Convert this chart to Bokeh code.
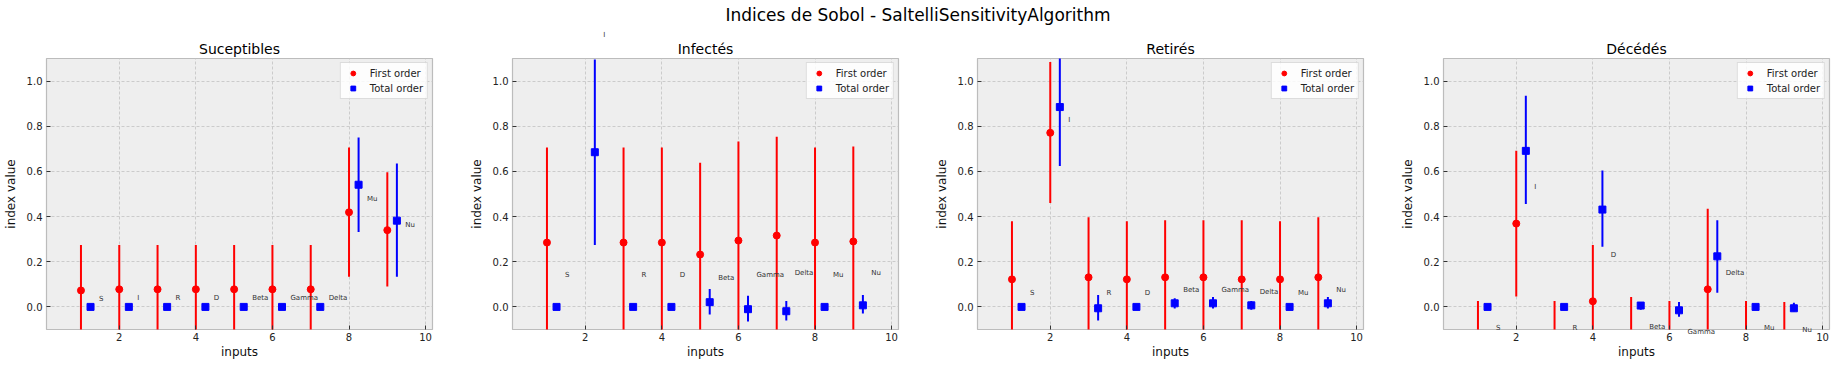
from bokeh.plotting import figure
from bokeh.models import (ColumnDataSource, FixedTicker, NumeralTickFormatter,
                          Range1d, Legend, LegendItem, Div)
from bokeh.core.properties import value
from bokeh.layouts import row, column
from bokeh.embed import file_html
from bokeh.resources import INLINE

suptitle = "Indices de Sobol - SaltelliSensitivityAlgorithm"
names = ["S", "I", "R", "D", "Beta", "Gamma", "Delta", "Mu", "Nu"]
titles = ["Suceptibles", "Infectés", "Retirés", "Décédés"]
x_ticks = [2, 4, 6, 8, 10]
y_ticks = [0.0, 0.2, 0.4, 0.6, 0.8, 1.0]

# --- Suceptibles
s_first = [0.073, 0.078, 0.078, 0.078, 0.078, 0.078, 0.078, 0.419, 0.340]
s_first_lo = [-0.128, -0.118, -0.118, -0.118, -0.118, -0.118, -0.118, 0.134, 0.090]
s_first_hi = [0.274, 0.274, 0.274, 0.274, 0.274, 0.274, 0.274, 0.706, 0.596]
s_total = [0.0, 0.0, 0.0, 0.0, 0.0, 0.0, 0.0, 0.541, 0.382]
s_total_lo = [0.0, 0.0, 0.0, 0.0, 0.0, 0.0, 0.0, 0.332, 0.134]
s_total_hi = [0.0, 0.0, 0.0, 0.0, 0.0, 0.0, 0.0, 0.750, 0.635]

# --- Infectés
i_first = [0.285, 1.720, 0.285, 0.285, 0.232, 0.294, 0.316, 0.285, 0.290]
i_first_lo = [-0.136, 1.300, -0.136, -0.136, -0.174, -0.144, -0.122, -0.136, -0.130]
i_first_hi = [0.706, 2.140, 0.706, 0.706, 0.638, 0.732, 0.754, 0.706, 0.710]
i_total = [0.0, 0.685, 0.0, 0.0, 0.021, -0.010, -0.019, 0.0, 0.007]
i_total_lo = [0.0, 0.274, 0.0, 0.0, -0.034, -0.065, -0.060, 0.0, -0.029]
i_total_hi = [0.0, 1.096, 0.0, 0.0, 0.079, 0.049, 0.026, 0.0, 0.053]

# --- Retirés
r_first = [0.122, 0.771, 0.131, 0.122, 0.131, 0.131, 0.122, 0.122, 0.131]
r_first_lo = [-0.135, 0.460, -0.135, -0.135, -0.122, -0.122, -0.140, -0.135, -0.135]
r_first_hi = [0.379, 1.085, 0.397, 0.379, 0.384, 0.384, 0.384, 0.379, 0.397]
r_total = [0.0, 0.885, -0.006, 0.0, 0.016, 0.016, 0.007, 0.0, 0.016]
r_total_lo = [0.0, 0.624, -0.060, 0.0, -0.007, -0.007, -0.012, 0.0, -0.007]
r_total_hi = [0.0, 1.146, 0.053, 0.0, 0.038, 0.044, 0.026, 0.0, 0.044]

# --- Décédés
d_first = [-0.190, 0.369, -0.190, 0.025, -0.188, -0.203, 0.078, -0.190, -0.194]
d_first_lo = [-0.406, 0.046, -0.406, -0.224, -0.420, -0.432, -0.279, -0.406, -0.410]
d_first_hi = [0.026, 0.691, 0.026, 0.274, 0.044, 0.026, 0.435, 0.026, 0.022]
d_total = [0.0, 0.691, 0.0, 0.431, 0.006, -0.015, 0.224, 0.0, -0.006]
d_total_lo = [0.0, 0.456, 0.0, 0.266, -0.013, -0.043, 0.063, 0.0, -0.020]
d_total_hi = [0.0, 0.935, 0.0, 0.604, 0.021, 0.022, 0.384, 0.0, 0.018]

series = [
    (s_first, s_first_lo, s_first_hi, s_total, s_total_lo, s_total_hi),
    (i_first, i_first_lo, i_first_hi, i_total, i_total_lo, i_total_hi),
    (r_first, r_first_lo, r_first_hi, r_total, r_total_lo, r_total_hi),
    (d_first, d_first_lo, d_first_hi, d_total, d_total_lo, d_total_hi),
]

FONT = "DejaVu Sans"
widths = [466, 465, 466, 439]
LEFT = 44
FRAME_W = 388

figs = []
for k in range(4):
    fi, fl, fh, to, tl, th = series[k]
    xs = [i + 1 for i in range(len(names))]
    xt = [x + 0.25 for x in xs]
    src_f = ColumnDataSource(dict(x=xs, y=fi, lo=fl, hi=fh))
    src_t = ColumnDataSource(dict(x=xt, y=to, lo=tl, hi=th))
    src_l = ColumnDataSource(dict(x=[x + 0.47 for x in xs],
                                  y=[(a + b) / 2 for a, b in zip(fi, to)],
                                  t=names))
    W = widths[k]
    p = figure(width=W, height=339, output_backend="svg", toolbar_location=None,
               x_range=Range1d(0.1, 10.18), y_range=Range1d(-0.1, 1.1),
               min_border_left=LEFT, min_border_right=W - LEFT - FRAME_W,
               min_border_top=30, min_border_bottom=38,
               background_fill_color="#eeeeee", border_fill_color="white")
    p.title.text = titles[k]
    p.title.align = "center"
    p.title.text_font = FONT
    p.title.text_font_size = "14px"
    p.title.text_font_style = "normal"
    p.title.text_color = "black"
    p.title.standoff = 4
    p.outline_line_color = "#bcbcbc"
    p.outline_line_width = 1.2

    for ax in (p.xaxis[0], p.yaxis[0]):
        ax.axis_line_color = None
        ax.major_tick_in = 4
        ax.major_tick_out = 0
        ax.minor_tick_in = 0
        ax.minor_tick_out = 0
        ax.major_tick_line_color = "#333333"
        ax.major_label_text_font = FONT
        ax.major_label_text_font_size = "10px"
        ax.major_label_text_color = "#222222"
        ax.axis_label_text_font = FONT
        ax.axis_label_text_font_size = "12px"
        ax.axis_label_text_font_style = "normal"
        ax.axis_label_text_color = "#111111"
    p.xaxis.ticker = FixedTicker(ticks=x_ticks)
    p.yaxis.ticker = FixedTicker(ticks=y_ticks)
    p.yaxis.formatter = NumeralTickFormatter(format="0.0")
    p.xaxis.axis_label = "inputs"
    p.yaxis.axis_label = "index value"
    p.xaxis.major_label_standoff = 3
    p.yaxis.major_label_standoff = 4
    p.xaxis.axis_label_standoff = 1
    p.yaxis.axis_label_standoff = 6

    for g in (p.xgrid[0], p.ygrid[0]):
        g.grid_line_color = "#c6c6c6"
        g.grid_line_width = 0.9
        g.grid_line_dash = "3 2"
    p.xgrid.ticker = FixedTicker(ticks=x_ticks)
    p.ygrid.ticker = FixedTicker(ticks=y_ticks)

    p.segment(x0="x", y0="lo", x1="x", y1="hi", source=src_f, line_color="red", line_width=2)
    rf = p.scatter(x="x", y="y", source=src_f, marker="circle", size=7,
                   fill_color="red", line_color="red")
    p.segment(x0="x", y0="lo", x1="x", y1="hi", source=src_t, line_color="blue", line_width=2)
    rt = p.scatter(x="x", y="y", source=src_t, marker="square", size=7,
                   fill_color="blue", line_color="blue")

    p.text(x="x", y="y", text="t", source=src_l, level="overlay",
           text_font=value(FONT), text_font_size="7px", text_color="#333333",
           text_align="left", text_baseline="middle")

    legend = Legend(items=[LegendItem(label="First order", renderers=[rf]),
                           LegendItem(label="Total order", renderers=[rt])],
                    location="top_right", margin=4, padding=4, spacing=3,
                    label_height=12, glyph_height=12, glyph_width=16, label_standoff=9,
                    label_text_font=FONT, label_text_font_size="10px",
                    label_text_color="#222222",
                    background_fill_color="white", background_fill_alpha=0.85,
                    border_line_color="#bbbbbb", border_line_width=1)
    p.add_layout(legend)
    figs.append(p)

div = Div(text=suptitle, width=sum(widths), height=28, margin=(0, 0, 0, 0),
          styles={"text-align": "center", "font-family": FONT, "font-size": "17px",
                  "line-height": "30px", "color": "black", "width": "100%"})

layout = column(div, row(*figs, spacing=0), spacing=0)
open("out.html", "w").write(file_html(layout, INLINE))
